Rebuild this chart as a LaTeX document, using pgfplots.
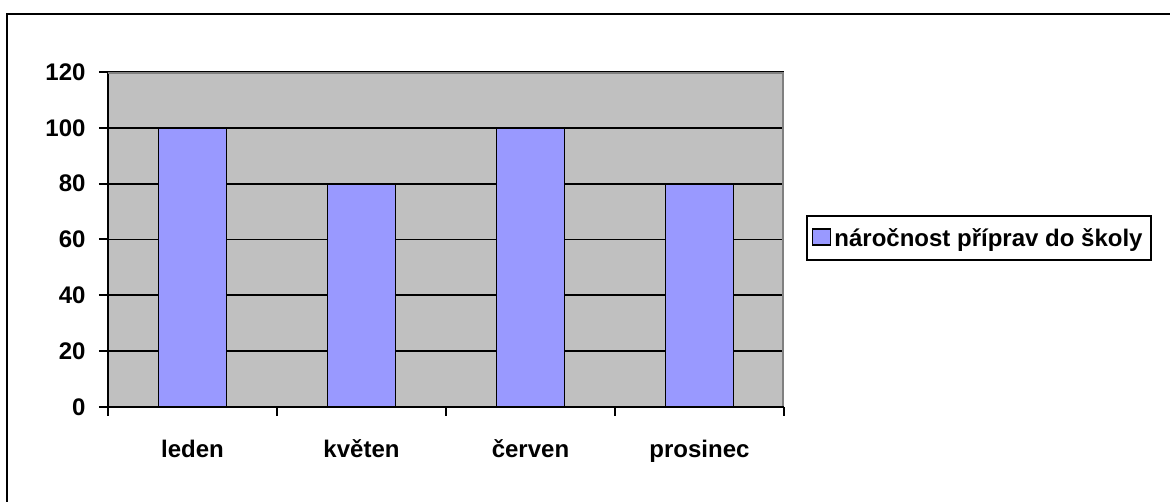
\documentclass[border=0pt]{standalone}
\usepackage{pgfplots}
\pgfplotsset{compat=1.18}
\usepackage{fontspec}
\setmainfont{Liberation Sans}
\definecolor{barblue}{HTML}{9999FF}
\definecolor{plotgrey}{HTML}{C0C0C0}
\definecolor{bordergrey}{HTML}{808080}
\begin{document}
\begin{tikzpicture}
\path[use as bounding box] (0pt,0pt) rectangle (1170pt,502pt);
\draw[black, line width=2.5pt] (7pt,-10pt) -- (7pt,488pt) -- (1180pt,488pt);
\begin{axis}[
  at={(108pt,95pt)}, anchor=south west,
  scale only axis, width=676pt, height=335pt,
  xmin=-0.5, xmax=3.5, ymin=0, ymax=120,
  axis background/.style={fill=plotgrey},
  axis line style={line width=2pt},
  axis x line*=bottom, axis y line*=left,
  ybar, bar width=68pt,
  xtick={0,1,2,3},
  xticklabels={leden,květen,červen,prosinec},
  minor xtick={-0.5,0.5,1.5,2.5,3.5},
  major x tick style={draw=none},
  minor x tick style={black, line width=2pt},
  minor tick length=9pt,
  ytick={0,20,...,120},
  ymajorgrids, grid style={black, line width=1.8pt},
  major y tick style={black, line width=2pt},
  major tick length=9pt,
  tick align=outside,
  /pgf/number format/assume math mode=true,
  tick label style={font=\bfseries\fontsize{24}{24}\selectfont},
  xticklabel style={anchor=base, yshift=-42pt},
  yticklabel style={xshift=-10pt},
  legend style={at={(1.0325,0.504)}, anchor=west, draw=black, line width=2pt,
    font=\bfseries\fontsize{24}{24}\selectfont, inner xsep=5pt, inner ysep=9pt,
    nodes={inner sep=3pt},
    legend cell align=left},
  legend image code/.code={\draw[fill=barblue, draw=black, line width=1.5pt] (0pt,-7pt) rectangle (18pt,9pt);},
]
\addplot[fill=barblue, draw=black, line width=1.8pt] coordinates {(0,100) (1,80) (2,100) (3,80)};
\addlegendentry{náročnost příprav do školy}
\end{axis}
\draw[bordergrey, line width=2pt] (108pt,429pt) -- (783pt,429pt) -- (783pt,96pt);
\end{tikzpicture}
\end{document}
